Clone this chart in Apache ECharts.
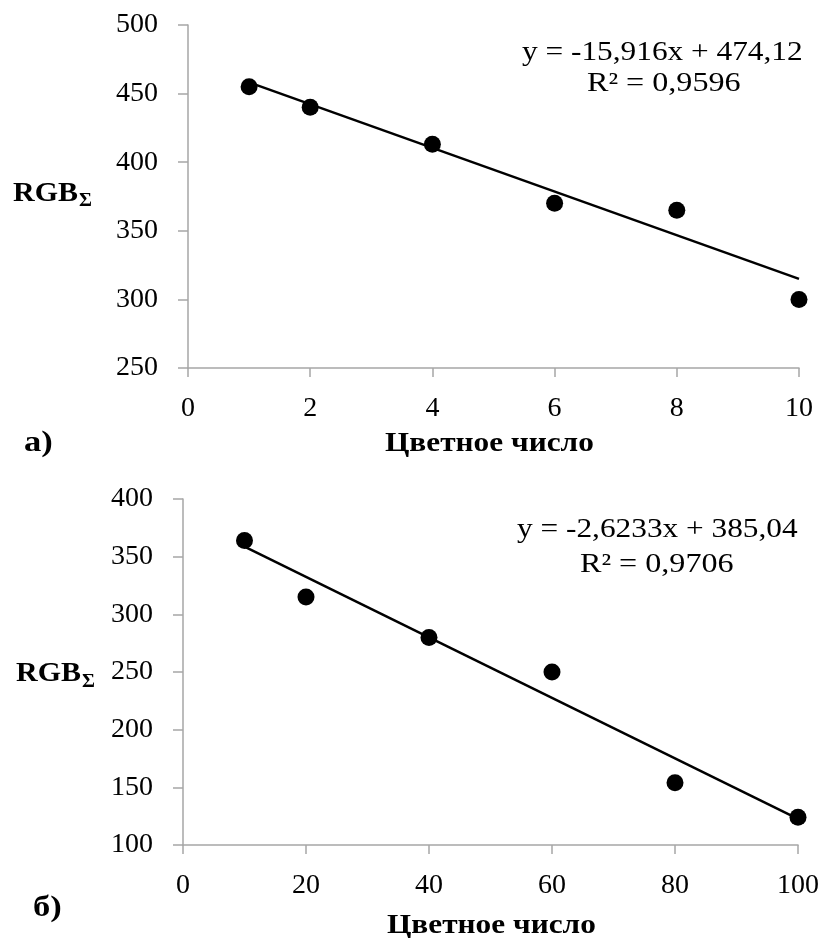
<!DOCTYPE html>
<html>
<head>
<meta charset="utf-8">
<script src="https://cdn.jsdelivr.net/npm/echarts@6/dist/echarts.min.js"></script>
<style>
html,body{margin:0;padding:0;background:#fff;}
#main{width:822px;height:938px;}
</style>
</head>
<body>
<div id="main"></div>
<script>
// Chart a
const xA = [1, 2, 4, 6, 8, 10];
const yA = [455, 440, 413, 370, 365, 300];
const trendA = [[1, 458.2], [10, 315.0]];
const eqA = 'y = -15,916x + 474,12';
const r2A = 'R² = 0,9596';
// Chart b
const xB = [10, 20, 40, 60, 80, 100];
const yB = [364, 315, 280, 250, 154, 124];
const trendB = [[10, 358.8], [100, 122.7]];
const eqB = 'y = -2,6233x + 385,04';
const r2B = 'R² = 0,9706';
const xTitle = 'Цветное число';
const yTitle = 'RGB';
const ySub = 'Σ';
const labelA = 'а)';
const labelB = 'б)';

const FONT = '"Liberation Serif", "Times New Roman", serif';
const axisColor = '#a6a6a6';
const txt = '#000';

function xAxisCfg(grid, min, max, interval) {
  return {
    type: 'value', gridIndex: grid, min, max, interval,
    axisLine: {show: true, lineStyle: {color: axisColor, width: 1.5}},
    axisTick: {show: true, inside: false, length: 9, lineStyle: {color: axisColor, width: 1.5}},
    splitLine: {show: false},
    axisLabel: {color: txt, fontFamily: FONT, fontSize: 28, margin: 27}
  };
}
function yAxisCfg(grid, min, max, interval) {
  return {
    type: 'value', gridIndex: grid, min, max, interval,
    axisLine: {show: true, lineStyle: {color: axisColor, width: 1.5}},
    axisTick: {show: true, inside: false, length: 10, lineStyle: {color: axisColor, width: 1.5}},
    splitLine: {show: false},
    axisLabel: {color: txt, fontFamily: FONT, fontSize: 28, margin: 30}
  };
}
const pts = (xs, ys) => xs.map((x, i) => [x, ys[i]]);

function t(text, x, y, font, sx) {
  return {
    type: 'text', x, y, scaleX: sx || 1, scaleY: 1, originX: 0, originY: 0,
    style: {text, fill: txt, font: font, verticalAlign: 'middle', textVerticalAlign: 'middle', align: 'left'}
  };
}

const option = {
  backgroundColor: '#fff',
  animation: false,
  grid: [
    {left: 188, top: 25, width: 611, height: 343},
    {left: 183, top: 499, width: 616, height: 346}
  ],
  xAxis: [xAxisCfg(0, 0, 10, 2), xAxisCfg(1, 0, 100, 20)],
  yAxis: [yAxisCfg(0, 250, 500, 50), yAxisCfg(1, 100, 400, 50)],
  series: [
    {type: 'line', xAxisIndex: 0, yAxisIndex: 0, data: trendA, symbol: 'none',
     lineStyle: {color: '#000', width: 2.5}, z: 2},
    {type: 'scatter', xAxisIndex: 0, yAxisIndex: 0, data: pts(xA, yA), symbolSize: 17,
     itemStyle: {color: '#000', opacity: 1}, z: 3},
    {type: 'line', xAxisIndex: 1, yAxisIndex: 1, data: trendB, symbol: 'none',
     lineStyle: {color: '#000', width: 2.5}, z: 2},
    {type: 'scatter', xAxisIndex: 1, yAxisIndex: 1, data: pts(xB, yB), symbolSize: 17,
     itemStyle: {color: '#000', opacity: 1}, z: 3}
  ],
  graphic: [
    t(eqA, 522, 53, '27px ' + FONT, 1.16),
    t(r2A, 587, 83.5, '27px ' + FONT, 1.19),
    t(eqB, 517, 530, '27px ' + FONT, 1.16),
    t(r2B, 580, 564.5, '27px ' + FONT, 1.19),
    t(yTitle, 13, 194, 'bold 27px ' + FONT, 1.11),
    t(ySub, 79, 201, 'bold 18px ' + FONT, 1.1),
    t(yTitle, 16, 674, 'bold 27px ' + FONT, 1.11),
    t(ySub, 82, 682, 'bold 18px ' + FONT, 1.1),
    t(xTitle, 385, 444, 'bold 27px ' + FONT, 1.16),
    t(xTitle, 387, 926, 'bold 27px ' + FONT, 1.16),
    t(labelA, 24, 443.5, 'bold 30px ' + FONT, 1.15),
    t(labelB, 33, 908, 'bold 30px ' + FONT, 1.15)
  ]
};
const chart = echarts.init(document.getElementById('main'), null, {renderer: 'canvas'});
chart.setOption(option);
</script>
</body>
</html>
